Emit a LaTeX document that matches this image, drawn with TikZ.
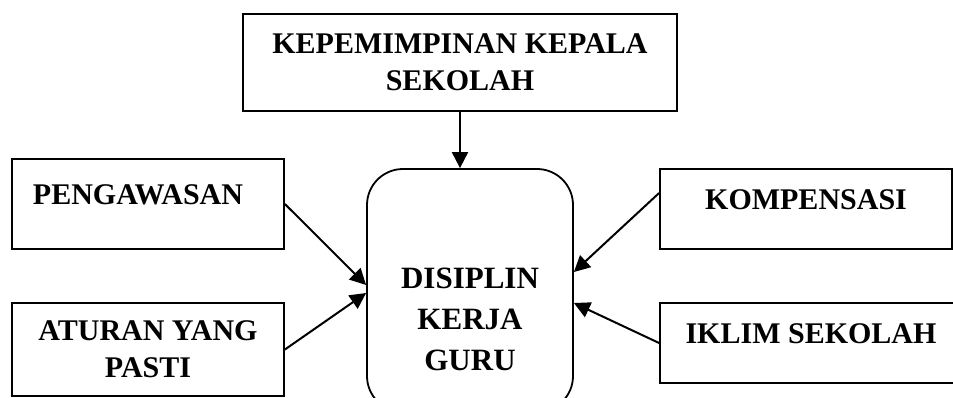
\documentclass[tikz,border=0pt]{standalone}
\usepackage{fontspec}
\setmainfont{Liberation Serif}
\usetikzlibrary{arrows.meta}

\begin{document}
\begin{tikzpicture}[x=1pt, y=-1pt,
  box/.style={draw, line width=1.8pt, rectangle, inner sep=0pt, align=center,
    font=\fontsize{30}{37}\selectfont\bfseries},
  upper/.style={text height=20pt, text depth=20pt},
  hub/.style={draw, line width=1.8pt, rounded corners=36pt, inner sep=0pt,
    minimum width=206pt, minimum height=243pt},
  link/.style={line width=2pt, -{Triangle[length=16pt, width=16pt]}}]
  \useasboundingbox (0,0) rectangle (953,397);
  \clip (0,0) rectangle (953,397);
  % factors
  \node[box, minimum width=434pt, minimum height=97pt] (kepala) at (460,62.5)
    {KEPEMIMPINAN KEPALA\\SEKOLAH};
  \node[box, upper, minimum width=272pt, minimum height=90pt] (pengawasan) at (148,204)
    {PENGAWASAN\hspace{20pt}};
  \node[box, minimum width=272pt, minimum height=93pt] (aturan) at (148,349.5)
    {ATURAN YANG\\PASTI};
  \node[box, upper, minimum width=292pt, minimum height=80pt] (kompensasi) at (806,209)
    {KOMPENSASI};
  \node[box, upper, minimum width=302pt, minimum height=80pt] (iklim) at (811,343)
    {IKLIM SEKOLAH};
  % discipline
  \node[hub, label={[name=disiplintext, yshift=-28.5pt, align=center,
      font=\fontsize{31}{41}\selectfont\bfseries]center:DISIPLIN\\KERJA\\GURU}]
    (disiplin) at (470,290.5) {};
  % influences
  \draw[link] (kepala.south) -- (kepala.south |- disiplin.north);
  \draw[link] (pengawasan.east) -- ([yshift=5.5pt]disiplin.west);
  \draw[link] (aturan.east) -- ([yshift=-2.5pt]disiplin.west);
  \draw[link] ([yshift=16pt]kompensasi.west) -- ([yshift=18.5pt]disiplin.east);
  \draw[link] (iklim.west) -- ([yshift=-12.5pt]disiplin.east);
\end{tikzpicture}
\end{document}
